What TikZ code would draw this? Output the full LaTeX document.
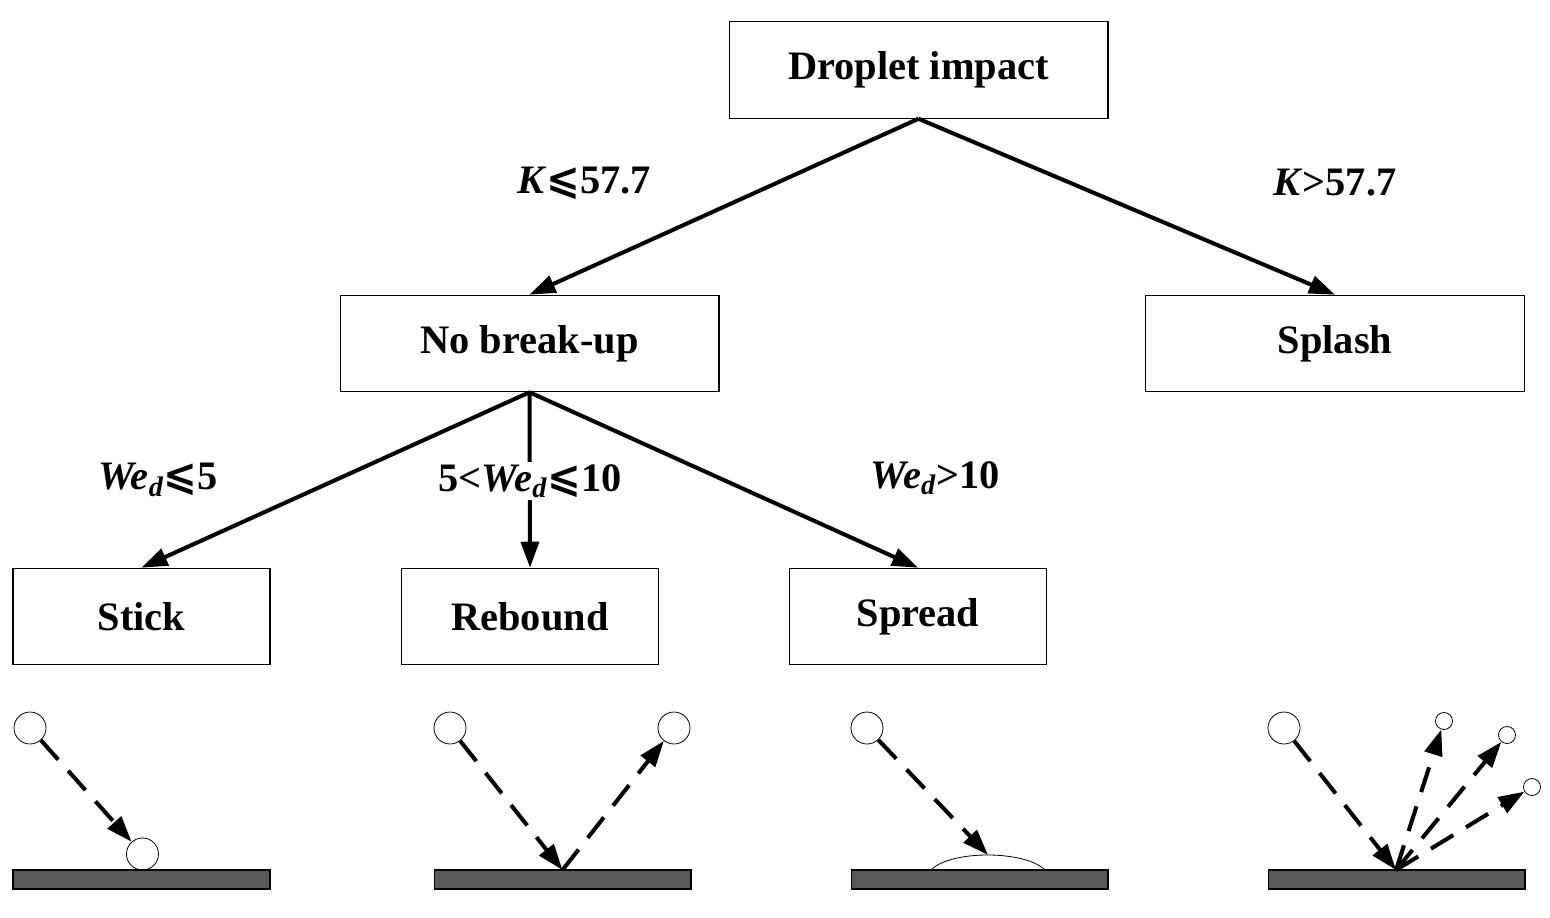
\documentclass[tikz,border=0pt]{standalone}
\usepackage{fontspec}
\setmainfont{Liberation Serif}
\newfontfamily\symfont{DejaVu Sans}
\usetikzlibrary{arrows.meta}
\newcommand{\lesym}{{\symfont\char"2A7D}}
\definecolor{platefill}{HTML}{5A5A5A}
\tikzset{
    bigbox/.style={draw, line width=0.6pt, minimum width=7.58cm, minimum height=1.93cm, inner sep=0pt, font=\fontsize{23}{26}\selectfont\bfseries},
    smallbox/.style={bigbox, minimum width=5.14cm},
    cond/.style={fill=white, inner sep=1pt, font=\fontsize{23}{26}\selectfont\bfseries},
    plate/.style={draw, line width=0.6pt, fill=platefill, minimum width=5.14cm, minimum height=0.38cm, inner sep=0pt},
    drop/.style={draw, circle, line width=0.45pt, minimum size=0.64cm, inner sep=0pt},
    tinydrop/.style={drop, minimum size=0.34cm},
    link/.style={line width=2.3pt, -{Triangle[length=14.8pt,width=10.2pt]}},
    path/.style={link, dash pattern=on 14.8pt off 8.5pt},
}
\begin{document}
\begin{tikzpicture}[x=0.02cm, y=-0.02cm]
    \useasboundingbox (0,0) rectangle (1550,918);

    \def\impactplate#1#2{%
        \node[plate] (#1) at (#2,879.5) {};
    }

    % boxes
    \node[bigbox] (impact) at (918.5,70) {Droplet impact};
    \node[bigbox] (nobreak) at (529.5,343.5) {No break-up};
    \node[bigbox] (splash) at (1335,343.5) {Splash};
    \node[smallbox] (stick) at (141.5,616.5) {Stick};
    \node[smallbox] (rebound) at (530,616.5) {Rebound};
    \node[smallbox] (spread) at (918,616.5) {Spread};

    \draw[link] (impact.south) -- (nobreak.north);
    \draw[link] (impact.south) -- (splash.north);
    \draw[link] (nobreak.south) -- (stick.north);
    \draw[link] (nobreak.south) -- (rebound.north);
    \draw[link] (nobreak.south) -- (spread.north);

    % conditions
    \node[cond] (kle) at (584,183) {\textit{K}\lesym 57.7};
    \node[cond] (kgt) at (1335,183) {\textit{K}>57.7};
    \node[cond] (wea) at (158,480) {\textit{We\textsubscript{d}}\lesym 5};
    \node[cond] (web) at (530,481) {5<\textit{We\textsubscript{d}}\lesym 10};
    \node[cond] (wec) at (935,478) {\textit{We\textsubscript{d}}>10};

    % stick
    \impactplate{platea}{141.5}
    \node[drop] (stickin) at (30,728) {};
    \node[drop] (stickout) at (142.5,854) {};
    \draw[path] (stickin) -- (stickout);

    % rebound
    \impactplate{plateb}{562.5}
    \node[drop] (rebin) at (450,728) {};
    \node[drop] (rebout) at (674,728) {};
    \coordinate (rebhit) at (562.5,870);
    \draw[path] (rebin) -- (rebhit);
    \draw[path] (rebhit) -- (rebout);

    % spread
    \node[drop] (sprin) at (867,728) {};
    \draw[line width=0.45pt] (931,870) .. controls (950,850) and (1025,850) .. (1045,870);
    \impactplate{platec}{979.5}
    \coordinate (sprhit) at (988,855);
    \draw[path] (sprin) -- (sprhit);

    % splash
    \impactplate{plated}{1396.5}
    \node[drop] (splin) at (1284,728) {};
    \node[tinydrop] (splouta) at (1444,721) {};
    \node[tinydrop] (sploutb) at (1507,735) {};
    \node[tinydrop] (sploutc) at (1532,787) {};
    \coordinate (splhit) at (1396,870);
    \draw[path] (splin) -- (splhit);
    \draw[path] (splhit) -- (splouta);
    \draw[path] (splhit) -- (sploutb);
    \draw[path] (splhit) -- (sploutc);
\end{tikzpicture}
\end{document}
